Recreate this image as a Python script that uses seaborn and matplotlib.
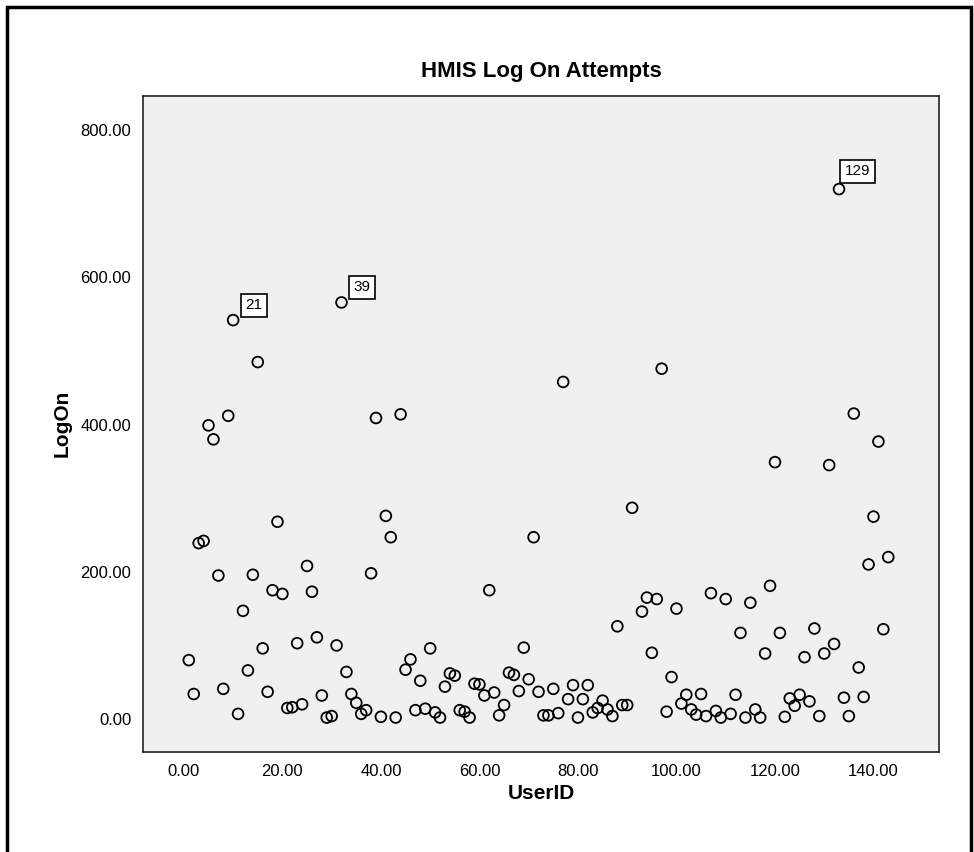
import matplotlib
matplotlib.use('Agg')
import matplotlib.pyplot as plt
import matplotlib.patches as patches
import pandas as pd
import seaborn as sns

# UserID 92 has no point in the chart
user_ids = [i for i in range(1, 144) if i != 92]
log_on = [80, 34, 239, 242, 399, 380, 195, 41, 412, 542,
          7, 147, 66, 196, 485, 96, 37, 175, 268, 170,
          15, 16, 103, 20, 208, 173, 111, 32, 2, 4,
          100, 566, 64, 34, 22, 7, 12, 198, 409, 3,
          276, 247, 2, 414, 67, 81, 12, 52, 14, 96,
          9, 2, 44, 62, 59, 12, 10, 2, 48, 47,
          32, 175, 36, 5, 19, 63, 60, 38, 97, 54,
          247, 37, 5, 5, 41, 8, 458, 27, 46, 2,
          27, 46, 9, 15, 25, 13, 4, 126, 19, 19,
          287,
          146, 165, 90, 163, 476, 10, 57, 150, 21,
          33, 13, 6, 34, 4, 171, 11, 2, 163, 7,
          33, 117, 2, 158, 13, 2, 89, 181, 349, 117,
          3, 28, 18, 33, 84, 24, 123, 4, 89, 345,
          102, 720, 29, 4, 415, 70, 30, 210, 275, 377,
          122, 220]

# outliers labelled with their case number
label_ids = [10, 32, 133]
label_cases = ['21', '39', '129']
label_offsets = [(12, 8), (12, 8), (6, 11)]

x_ticks = [0, 20, 40, 60, 80, 100, 120, 140]
y_ticks = [0, 200, 400, 600, 800]

df = pd.DataFrame({'UserID': user_ids, 'LogOn': log_on})

sns.set_style('white')
plt.rcParams['font.family'] = ['Liberation Sans', 'DejaVu Sans']
plt.rcParams['text.color'] = 'black'
plt.rcParams['axes.labelcolor'] = 'black'

fig = plt.figure(figsize=(9.74, 8.52), dpi=100)
ax = fig.add_axes([143 / 974, 1 - 751.7 / 852, 796 / 974, (751.7 - 96) / 852])
ax.set_facecolor('#f0f0f0')

sns.scatterplot(data=df, x='UserID', y='LogOn', ax=ax, s=60,
                facecolor='none', edgecolor='black', linewidth=1.3)

for uid, case, off in zip(label_ids, label_cases, label_offsets):
    y = log_on[user_ids.index(uid)]
    ax.annotate(case, (uid, y), xytext=off, textcoords='offset pixels',
                ha='left', va='bottom', fontsize=11,
                bbox=dict(boxstyle='square,pad=0.3', fc='white', ec='black', lw=1.2))

ax.set_xlim(-8.3, 153.3)
ax.set_ylim(-44.4, 846.5)
ax.set_xticks(x_ticks)
ax.set_yticks(y_ticks)
ax.set_xticklabels(['{:.2f}'.format(v) for v in x_ticks])
ax.set_yticklabels(['{:.2f}'.format(v) for v in y_ticks])
ax.tick_params(direction='out', length=5, width=1, colors='black', labelsize=12)

for side in ['left', 'bottom', 'top', 'right']:
    ax.spines[side].set_color('#222222')
    ax.spines[side].set_linewidth(1.2)

ax.set_title('HMIS Log On Attempts', fontsize=16, fontweight='bold', pad=14)
ax.set_xlabel('UserID', fontsize=15, fontweight='bold', labelpad=4)
ax.set_ylabel('LogOn', fontsize=15, fontweight='bold', labelpad=6)

# outer chart border
fig.patches.append(patches.Rectangle((7 / 974, -0.05), 964 / 974, 1.05 - 7 / 852,
                                     transform=fig.transFigure, fill=False,
                                     ec='black', lw=2.5))

fig.savefig('out.png', dpi=100)
